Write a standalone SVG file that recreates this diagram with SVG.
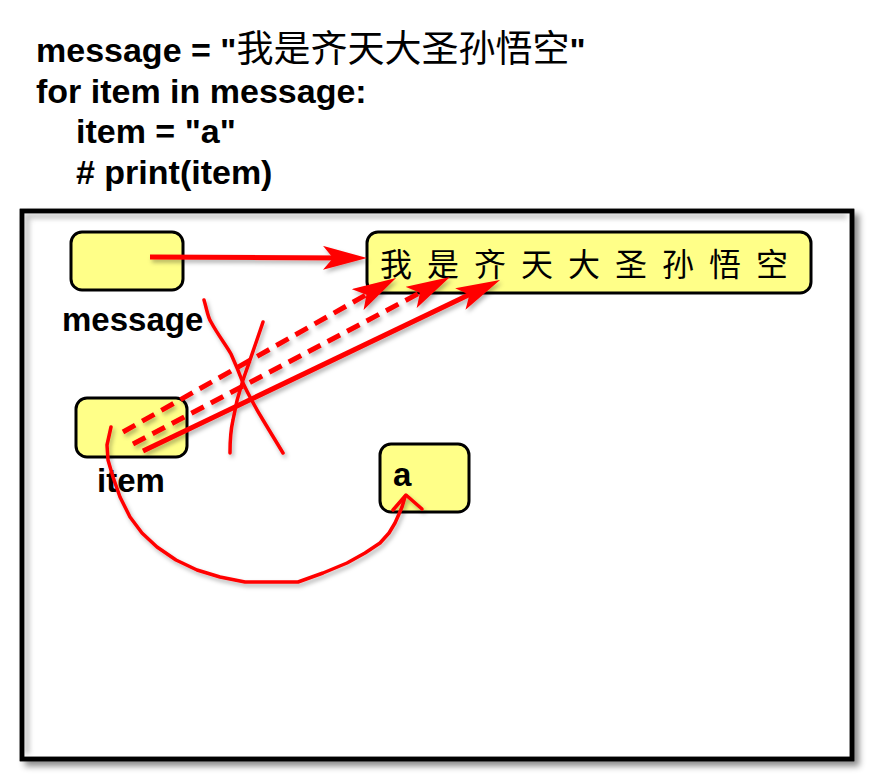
<svg xmlns="http://www.w3.org/2000/svg" width="880" height="778" viewBox="0 0 880 778">
  <style>
    .code { font-family: "Liberation Sans", Arial, "Noto Sans CJK SC", sans-serif; font-weight: bold; font-size: 34px; fill: #000; }
    .cjk { font-family: "Noto Sans CJK SC", sans-serif; font-weight: normal; }
    .label { font-family: "Liberation Sans", Arial, sans-serif; font-weight: bold; font-size: 33px; fill: #000; }
    .box { fill: #FFFF88; stroke: #000; stroke-width: 3; }
    .arrow { fill: none; stroke: #FF0000; stroke-width: 5; stroke-linecap: butt; }
    .dash { stroke-dasharray: 14 8; }
    .hand { fill: none; stroke: #FF0000; stroke-width: 3.5; stroke-linecap: round; stroke-linejoin: round; }
  </style>
  <defs>
    <filter id="frameShadow" x="-5%" y="-5%" width="112%" height="112%">
      <feDropShadow dx="5" dy="5" stdDeviation="3" flood-color="#000" flood-opacity="0.45"/>
    </filter>
    <filter id="redShadow" x="-10%" y="-10%" width="130%" height="130%">
      <feDropShadow dx="2" dy="3" stdDeviation="2" flood-color="#000" flood-opacity="0.3"/>
    </filter>
    <filter id="blur2"><feGaussianBlur stdDeviation="2.5"/></filter>
    <marker id="head" viewBox="0 0 44 24" refX="24" refY="12" markerWidth="44" markerHeight="24" markerUnits="userSpaceOnUse" orient="auto">
      <path d="M0,0 L44,12 L0,24 L10,12 z" fill="#FF0000"/>
    </marker>
  </defs>

  <rect width="880" height="778" fill="#fff"/>

  <g id="code">
    <text class="code" x="36" y="62">message = "<tspan class="cjk" font-size="37">我是齐天大圣孙悟空</tspan>"</text>
    <text class="code" x="36" y="103">for item in message:</text>
    <text class="code" x="76" y="143">item = "a"</text>
    <text class="code" x="76" y="184"># print(item)</text>
  </g>

  <g id="frame">
    <rect x="22" y="211" width="830" height="548" fill="#fff" stroke="#000" stroke-width="4.5" filter="url(#frameShadow)"/>
    <path d="M27,754 L27,216 L847,216" fill="none" stroke="#aaa" stroke-width="5" filter="url(#blur2)" opacity="0.7"/>
    <rect x="22" y="211" width="830" height="548" fill="none" stroke="#000" stroke-width="4.5"/>
  </g>

  <g id="node-message">
    <rect class="box" x="71" y="232" width="112" height="58" rx="11"/>
    <text class="label" x="62" y="331">message</text>
  </g>

  <g id="node-item">
    <rect class="box" x="76" y="398" width="111" height="59" rx="11"/>
    <text class="label" x="97" y="492">item</text>
  </g>

  <g id="node-string">
    <rect class="box" x="367" y="232" width="444" height="61" rx="11"/>
    <text class="cjk" font-size="32" fill="#000" x="380 427 474 521 568 615 662 709 756" y="276">我是齐天大圣孙悟空</text>
  </g>

  <g id="node-a">
    <rect class="box" x="380" y="444" width="89" height="68" rx="11"/>
    <text class="label" font-size="34" x="393" y="486">a</text>
  </g>

  <g id="connectors" filter="url(#redShadow)">
    <line class="arrow" x1="150" y1="257" x2="347" y2="258" marker-end="url(#head)"/>
    <line class="arrow dash" x1="123" y1="432" x2="378.6" y2="287.8" marker-end="url(#head)"/>
    <line class="arrow dash" x1="133" y1="444" x2="432.3" y2="286.3" marker-end="url(#head)"/>
    <line class="arrow" x1="143" y1="451" x2="482" y2="288.6" marker-end="url(#head)"/>
    <path class="hand" d="M204,300 C207,310 208,318 211,322 C218,335 226,345 231,354 C236,365 240,375 243,383 C250,398 257,410 263,420 C271,433 277,443 283,453"/>
    <path class="hand" d="M263,322 C257,340 250,360 243,380 C238,395 235,408 233,420 C230,433 230,443 230,453"/>
    <polyline class="hand" points="111,427 107,445 108,460 113,477 120,497 130,517 142,533 157,547 176,560 197,570 220,577 245,582 272,582 298,582 323,573 347,563 365,553 380,543 389,533 395,523 399,514 402,507 405,497"/>
    <polyline class="hand" points="393,510 406,495 422,509"/>
  </g>
</svg>
